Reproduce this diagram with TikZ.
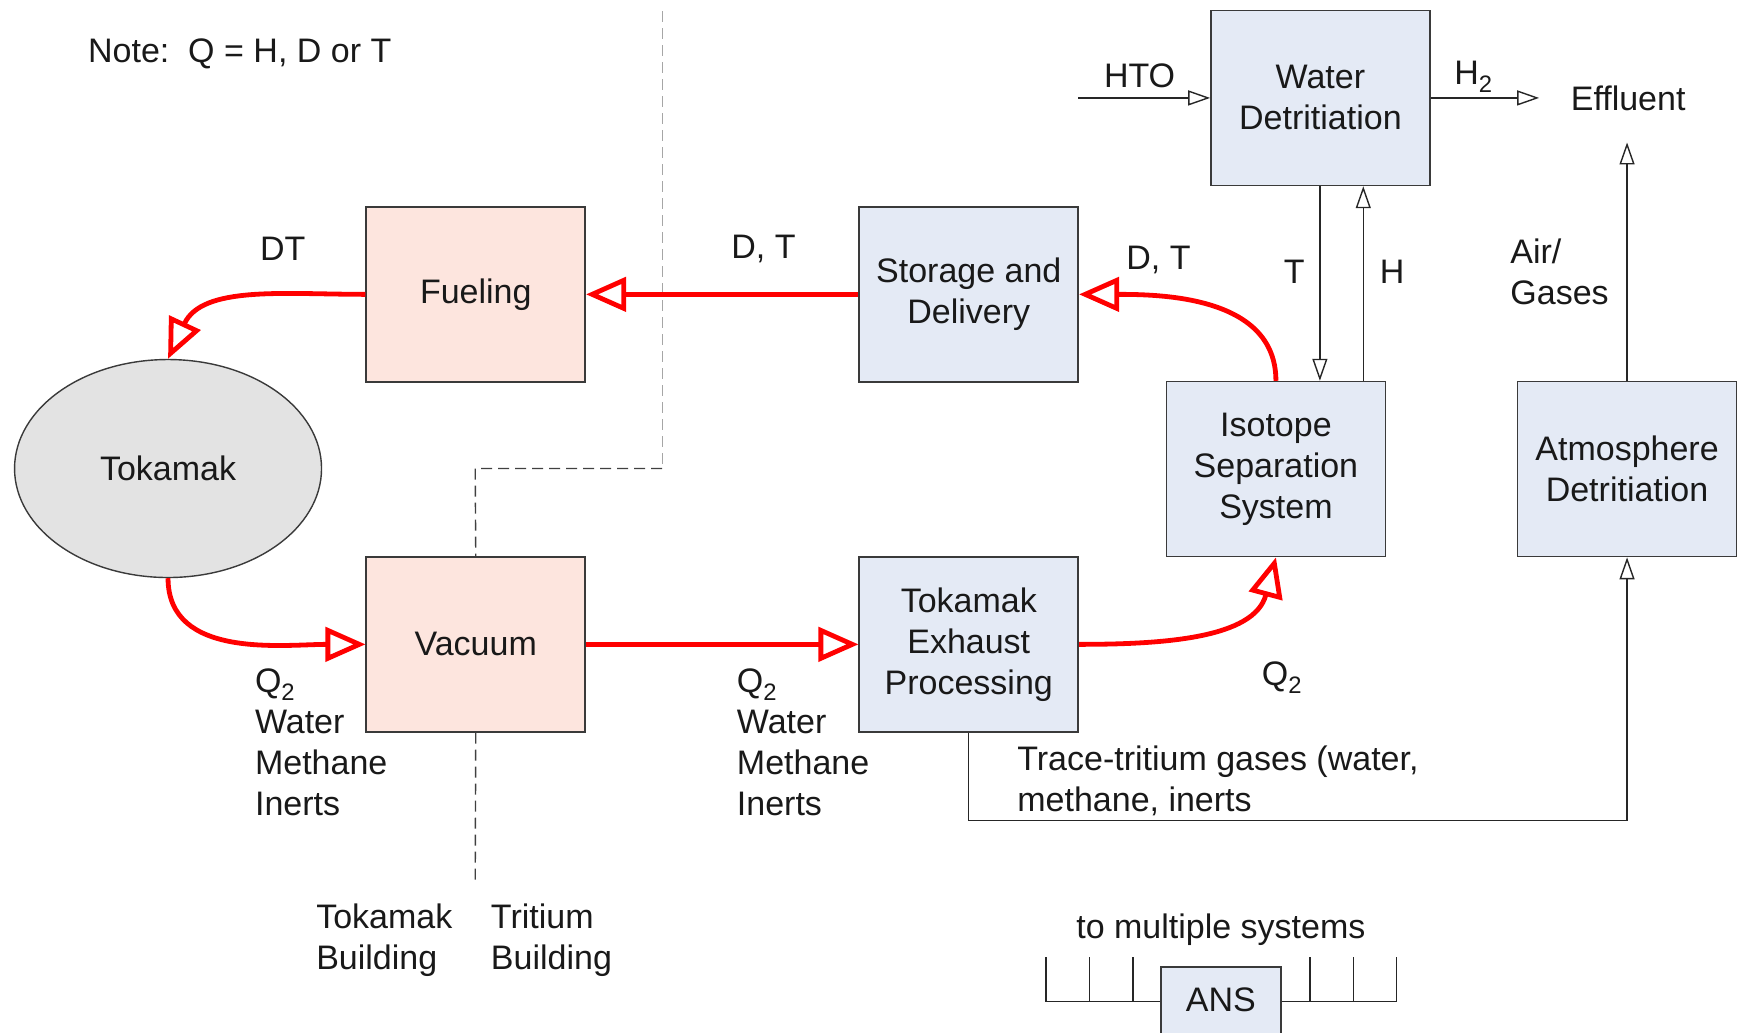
\documentclass[tikz,border=0pt]{standalone}
\usepackage{fontspec}
\setmainfont{Liberation Sans}
\usetikzlibrary{arrows.meta,shapes.geometric,calc}
\definecolor{pinkfill}{HTML}{FDE5DE}
\definecolor{bluefill}{HTML}{E4EAF5}
\definecolor{grayfill}{HTML}{E3E3E3}
\definecolor{edge}{HTML}{3A3A3A}
\definecolor{redline}{HTML}{FF0000}
\begin{document}
\begin{tikzpicture}[x=1.1129pt,y=-1.1129pt,
  every node/.style={font=\fontsize{34pt}{41pt}\selectfont, text=black!90},
  box/.style={draw=edge, line width=1.6pt, minimum width=219pt, minimum height=175pt, align=center, inner sep=0pt},
  pbox/.style={box, fill=pinkfill},
  bbox/.style={box, fill=bluefill},
  lbl/.style={inner sep=0pt, align=left},
  redarrow/.style={draw=redline, line width=4.8pt, -{Triangle[open, length=40pt, width=34pt]}},
  thinarrow/.style={draw=black!85, line width=1.4pt, -{Triangle[open, length=22pt, width=15pt]}},
  thinline/.style={draw=black!85, line width=1.4pt},
]
\useasboundingbox (0,0) rectangle (1568,928);

% nodes
\node[pbox] (fuel) at (427.5,264.5) {Fueling};
\node[bbox] (stor) at (870.5,264.5) {Storage and\\Delivery};
\node[bbox] (wd) at (1186.5,88) {Water\\Detritiation};
\node[bbox] (iso) at (1146.5,421.5) {Isotope\\Separation\\System};
\node[bbox] (atm) at (1462,421.5) {Atmosphere\\Detritiation};
\node[pbox] (vac) at (427.5,579) {Vacuum};
\node[bbox] (tep) at (870.5,579) {Tokamak\\Exhaust\\Processing};
\node[ellipse, draw=edge, line width=1.4pt, fill=grayfill, minimum width=307pt, minimum height=218pt, inner sep=0pt] (tok) at (151,421) {Tokamak};
\node[bbox, minimum width=120pt, minimum height=0pt, text height=24.5pt, text depth=70pt, inner ysep=20pt, anchor=base] (ans) at (1097,909) {ANS};

% building boundary (dashed)
\coordinate (d1) at (595,10);
\coordinate (d2) at (595,421);
\coordinate (d3) at (427,421);
\coordinate (d4) at (427,795);
\draw[gray!70, line width=1.2pt, dash pattern=on 11pt off 6pt] (d1) -- (d2);
\draw[black!75, line width=1.4pt, dash pattern=on 11pt off 6pt] (d2) -- (d3) -- (vac.north);
\draw[black!75, line width=1.4pt, dash pattern=on 11pt off 6pt] (vac.south) -- (d4);

% red main flows
\draw[redarrow] (fuel.west) to[out=180,in=65] (tok.north);
\draw[redarrow] (stor.west) -- (fuel.east);
\draw[redarrow] (iso.north) to[out=90,in=0] (stor.east);
\draw[redarrow] (tok.south) to[out=-90,in=180] (vac.west);
\draw[redarrow] (vac.east) -- (tep.west);
\draw[redarrow] (tep.east) to[out=0,in=-105] (iso.south);

% thin flows
\coordinate (htoin) at (969,88);
\coordinate (effout) at (1383,88);
\coordinate (effup) at (1462,128);
\coordinate (corner) at (1462,737);
\draw[thinarrow] (htoin) -- (wd.west);
\draw[thinarrow] (wd.east) -- (effout);
\draw[thinarrow] (wd.south -| 1186,0) -- (iso.north -| 1186,0);
\draw[thinarrow] (iso.north -| 1225,0) -- (wd.south -| 1225,0);
\draw[thinarrow] (atm.north) -- (effup);
\draw[thinarrow] (tep.south) |- (corner) -- (atm.south);

% ANS bus
\coordinate (b1) at (940,900);
\coordinate (b2) at (1255,900);
\draw[thinline] (b1) -- (ans.west |- b1);
\draw[thinline] (ans.east |- b2) -- (b2);
\foreach \xx in {940,979,1018,1177,1216,1255}
  \draw[thinline] (\xx,860) -- (\xx,900);

% labels
\node[lbl, anchor=west] (note) at (79,48) {Note:\ \ Q = H, D or T};
\node[lbl] (ldt) at (254,224) {DT};
\node[lbl] (ldt2) at (686,224) {D, T};
\node[lbl] (ldt3) at (1041,234) {D, T};
\node[lbl] (lt) at (1163,244) {T};
\node[lbl] (lh) at (1251,244) {H};
\node[lbl, anchor=west] (lair) at (1357,244) {Air/\\Gases};
\node[lbl] (lhto) at (1024,68) {HTO};
\node[lbl] (lh2) at (1324,69) {H\textsubscript{2}};
\node[lbl] (leff) at (1463,88) {Effluent};
\node[lbl, anchor=west] (lq1) at (229,667) {Q\textsubscript{2}\\Water\\Methane\\Inerts};
\node[lbl, anchor=west] (lq2) at (662,667) {Q\textsubscript{2}\\Water\\Methane\\Inerts};
\node[lbl] (lq3) at (1152,609) {Q\textsubscript{2}};
\node[lbl, anchor=west] (ltrace) at (914,702) {Trace-tritium gases (water,\\methane, inerts};
\node[lbl, anchor=west] (ltokb) at (284,845) {Tokamak\\Building};
\node[lbl, anchor=west] (ltrib) at (441,845) {Tritium\\Building};
\node[lbl] (lmulti) at (1097,835) {to multiple systems};
\end{tikzpicture}
\end{document}
